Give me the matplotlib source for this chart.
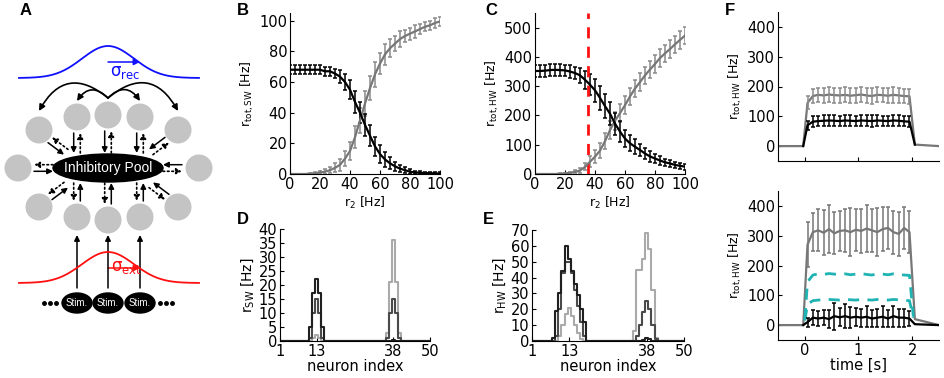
import numpy as np
import matplotlib.pyplot as plt
from matplotlib.patches import Circle, Ellipse, FancyArrowPatch

W, H = 945, 378

# ---- panel B / C data (r2 sweep) ----
r2 = np.linspace(0, 100, 31)
sw_black = [68, 68, 68, 68, 68, 68, 68, 67, 67, 65.5, 63.5, 60, 55, 47, 40, 32, 25, 18, 13,
            9.5, 7, 5, 3.5, 2.5, 1.5, 1.0, 0.8, 0.6, 0.5, 0.4, 0.3]
sw_black_err = [3, 3, 3, 3, 3, 3, 3, 3, 3, 3, 4, 5, 6, 7, 7, 7, 7, 6, 6, 5, 4, 3, 2.5, 2,
                1.5, 1, 1, 1, 1, 1, 1]
sw_gray = [0, 0, 0, 0, 0.2, 0.5, 1, 1.5, 2.5, 4, 6, 10, 15, 24, 35, 46, 56, 65, 72, 78, 82,
           85, 88, 90, 91.5, 93, 94.5, 96, 97, 98.5, 99.5]
sw_gray_err = [0.3, 0.3, 0.3, 0.3, 0.3, 0.5, 1, 1.5, 2, 3, 4, 5, 6, 7, 8, 8, 8, 8, 7, 7, 6,
               5, 5, 4, 4, 4, 3, 3, 3, 3, 3]

hw_black = [352, 352, 353, 355, 356, 355, 354, 350, 345, 337, 322, 305, 286, 260, 232, 206,
            172, 145, 121, 105, 93, 82, 70, 60, 53, 46, 40, 36, 31, 28, 25]
hw_black_err = [20, 20, 20, 20, 20, 20, 20, 22, 22, 25, 30, 35, 40, 40, 40, 40, 38, 35, 30,
                28, 25, 22, 20, 18, 16, 14, 12, 12, 10, 10, 10]
hw_gray = [0, 0, 0, 0, 0, 1, 2, 4, 7, 12, 24, 42, 59, 80, 112, 150, 182, 208, 235, 265, 292,
           314, 337, 357, 376, 396, 412, 427, 443, 458, 473]
hw_gray_err = [1, 1, 1, 1, 1, 2, 3, 4, 5, 8, 12, 18, 22, 25, 28, 30, 30, 30, 30, 30, 30, 30,
               30, 30, 30, 30, 30, 30, 30, 30, 30]
r2_marker = 35

# ---- panel D / E data (per-neuron rates) ----
neuron = np.arange(1, 51)
d_dark = {11: 5, 12: 17, 13: 22, 14: 17, 15: 5, 38: 0.5}
d_mid = {11: 1, 12: 10, 13: 15, 14: 10, 15: 1, 36: 1, 37: 10, 38: 15, 39: 10, 40: 1}
d_light = {12: 1, 13: 2, 14: 1, 36: 3, 37: 21, 38: 36, 39: 21, 40: 3}
e_dark = {8: 2, 9: 19, 10: 30, 11: 44, 12: 60, 13: 52, 14: 44, 15: 36, 16: 29, 17: 20,
          18: 12, 37: 0.5, 38: 2, 39: 1}
e_mid = {9: 3, 10: 20, 11: 43, 12: 50, 13: 50, 14: 43, 15: 32, 16: 22, 17: 12, 18: 3,
         35: 3, 36: 10, 37: 18, 38: 25, 39: 20, 40: 10, 41: 1}
e_light = {10: 3, 11: 10, 12: 17, 13: 21, 14: 16, 15: 10, 16: 5, 17: 1, 34: 6, 35: 45,
           36: 45, 37: 52, 38: 68, 39: 58, 40: 32, 41: 2}

# ---- panel F data (time courses) ----
t_on = [0.05, 0.15, 0.25, 0.35, 0.45, 0.55, 0.65, 0.75, 0.85, 0.95,
        1.05, 1.15, 1.25, 1.35, 1.45, 1.55, 1.65, 1.75, 1.85, 1.95]
t_pre = [-0.5, -0.03]
t_post = [2.05, 2.5]
top_gray = [145, 168, 172, 170, 173, 171, 170, 172, 169, 171, 173, 170, 168, 172, 171, 169,
            172, 170, 168, 167]
top_gray_err = [22, 25, 24, 25, 26, 25, 24, 25, 26, 25, 24, 25, 26, 25, 24, 25, 26, 25, 24, 25]
top_black = [70, 82, 84, 85, 86, 85, 84, 86, 85, 84, 86, 85, 84, 86, 85, 84, 86, 85, 83, 82]
top_black_err = [15, 18, 17, 18, 19, 18, 17, 18, 19, 18, 17, 18, 19, 18, 17, 18, 19, 18, 17, 18]
top_post = [5, 0]
bot_gray = [270, 312, 318, 310, 322, 308, 316, 318, 312, 320, 316, 324, 318, 312, 322, 326,
            312, 306, 326, 312]
bot_gray_err = [75, 65, 70, 75, 80, 70, 68, 72, 80, 70, 75, 78, 72, 80, 75, 70, 72, 75, 70, 70]
bot_black = [10, 25, 22, 25, 20, 30, 26, 30, 25, 28, 25, 28, 22, 25, 28, 22, 30, 25, 25, 22]
bot_black_err = [15, 25, 25, 25, 30, 45, 30, 40, 35, 30, 30, 35, 30, 30, 35, 30, 35, 30, 30, 25]
bot_gray_post = [20, 0]
bot_black_post = [3, 0]

GRAY = '#777777'
CYAN = '#1fb3b3'

plt.rcParams['font.family'] = ['DejaVu Sans']
plt.rcParams['font.size'] = 10
plt.rcParams['mathtext.default'] = 'regular'

fig = plt.figure(figsize=(W / 100, H / 100), dpi=100)


def px_axes(l, t, r, b):
    return fig.add_axes([l / W, 1 - b / H, (r - l) / W, (b - t) / H])


def style(ax):
    for s in ['top', 'right']:
        ax.spines[s].set_visible(False)
    ax.tick_params(direction='in', length=3, top=False, right=False, labelsize=10.5, pad=2)


def letter(x, y, s):
    fig.text(x / W, 1 - y / H, s, fontsize=12, fontweight='bold',
             family='Liberation Sans', va='top', ha='left')


def dense(d):
    v = np.zeros(len(neuron))
    for k, val in d.items():
        v[k - 1] = val
    return v


# ================= A: schematic =================
axA = fig.add_axes([0, 0, 230 / W, 1])
axA.set_xlim(0, 230)
axA.set_ylim(H, 0)
axA.axis('off')

xs = np.linspace(19, 199, 200)
bump = np.exp(-(xs - 108) ** 2 / (2 * 26 ** 2))
axA.plot(xs, 78 - 32 * bump, color='#1010ff', lw=1.3)
axA.plot(xs, 283 - 31 * bump, color='#ff1010', lw=1.3)


def arr(p0, p1, color='k', ls='-', lw=1.1, ms=8, cs=None):
    kw = dict(arrowstyle='-|>', mutation_scale=ms, color=color, lw=lw,
              linestyle=ls, shrinkA=0, shrinkB=0)
    if cs:
        kw['connectionstyle'] = cs
    axA.add_patch(FancyArrowPatch(p0, p1, **kw))


arr((108, 62), (140, 62), color='#1010ff', ms=9)
axA.text(110, 72, r'$\sigma_{rec}$', color='#1010ff', fontsize=12, va='center')
arr((108, 268), (140, 268), color='#ff1010', ms=9)
axA.text(111, 267, r'$\sigma_{ext}$', color='#ff1010', fontsize=12, va='center')

# recurrent excitation arcs
arr((108, 98), (39, 111), cs='arc3,rad=0.6', lw=1.2, ms=9)
arr((108, 98), (178, 111), cs='arc3,rad=-0.6', lw=1.2, ms=9)
arr((108, 98), (77, 101), cs='arc3,rad=0.6', lw=1.2, ms=9)
arr((108, 98), (140, 101), cs='arc3,rad=-0.6', lw=1.2, ms=9)

circles = [(77, 117), (108, 115), (140, 117), (39, 130), (178, 130), (18, 168), (199, 168),
           (39, 207), (178, 207), (77, 217), (108, 220), (140, 217)]
links = [((77, 133), (77, 153)), ((108, 131), (108, 153)), ((140, 133), (140, 153)),
         ((50, 140), (66, 152)), ((167, 140), (151, 152)), ((34, 168), (53, 168)),
         ((182, 168), (163, 168)), ((50, 197), (66, 185)), ((167, 197), (151, 185)),
         ((77, 201), (77, 183)), ((108, 204), (108, 183)), ((140, 201), (140, 183))]
for c in circles:
    axA.add_patch(Circle(c, 13.5, color='#c4c4c4', lw=0))
axA.add_patch(Ellipse((108, 168), 110, 28, color='k'))
axA.text(108, 168, 'Inhibitory Pool', color='w', ha='center', va='center', fontsize=10,
         family='Liberation Sans')
for p_out, p_in in links:
    p_out = np.array(p_out, float)
    p_in = np.array(p_in, float)
    d = (p_in - p_out) / np.hypot(*(p_in - p_out))
    n = np.array([-d[1], d[0]]) * 3.3
    arr(tuple(p_out + n), tuple(p_in + n), lw=1.1, ms=8)
    arr(tuple(p_in - n), tuple(p_out - n), ls=':', lw=1.2, ms=8)

for x in [77, 108, 140]:
    arr((x, 288), (x, 235), lw=1.1, ms=8)
    axA.add_patch(Ellipse((x, 303), 30, 20, color='k'))
    axA.text(x, 303, 'Stim.', color='w', ha='center', va='center', fontsize=7,
             family='Liberation Sans')
axA.plot([44, 50, 56], [303, 303, 303], 'ko', ms=2.5)
axA.plot([160, 166, 172], [303, 303, 303], 'ko', ms=2.5)

eb = dict(lw=1.6, elinewidth=1.1, capsize=1.6, capthick=1.1)

# ================= B =================
axB = px_axes(290, 13, 440, 174)
style(axB)
axB.errorbar(r2, sw_gray, yerr=sw_gray_err, color=GRAY, ecolor='#8a8a8a', **eb)
axB.errorbar(r2, sw_black, yerr=sw_black_err, color='k', ecolor='k', **eb)
axB.set_xlim(0, 100)
axB.set_ylim(0, 105)
axB.set_xticks([0, 20, 40, 60, 80, 100])
axB.set_yticks([0, 20, 40, 60, 80, 100])
axB.set_xlabel(r'r$_{2}$ [Hz]', fontsize=9, labelpad=2)
axB.set_ylabel(r'r$_{tot,SW}$ [Hz]', fontsize=9, labelpad=2)

# ================= C =================
axC = px_axes(535, 13, 685, 174)
style(axC)
axC.errorbar(r2, hw_gray, yerr=hw_gray_err, color=GRAY, ecolor='#8a8a8a', **eb)
axC.errorbar(r2, hw_black, yerr=hw_black_err, color='k', ecolor='k', **eb)
axC.axvline(r2_marker, color='#ff1010', ls='--', lw=2, dashes=(4, 3))
axC.set_xlim(0, 100)
axC.set_ylim(0, 550)
axC.set_xticks([0, 20, 40, 60, 80, 100])
axC.set_yticks([0, 100, 200, 300, 400, 500])
axC.set_xlabel(r'r$_{2}$ [Hz]', fontsize=9, labelpad=2)
axC.set_ylabel(r'r$_{tot,HW}$ [Hz]', fontsize=9, labelpad=2)

# ================= D =================
axD = px_axes(280, 229, 430, 341)
style(axD)
axD.step(neuron, dense(d_light), where='mid', color='#aaaaaa', lw=1.5)
axD.step(neuron, dense(d_mid), where='mid', color='#4a4a4a', lw=1.5)
axD.step(neuron, dense(d_dark), where='mid', color='#202020', lw=1.5)
axD.set_xlim(1, 50)
axD.set_ylim(0, 40)
axD.set_xticks([1, 13, 38, 50])
axD.set_yticks(range(0, 41, 5))
axD.set_xlabel('neuron index', fontsize=10.5, labelpad=0)
axD.set_ylabel(r'r$_{SW}$ [Hz]', labelpad=2)

# ================= E =================
axE = px_axes(532, 230, 684, 341)
style(axE)
axE.step(neuron, dense(e_light), where='mid', color='#aaaaaa', lw=1.5)
axE.step(neuron, dense(e_mid), where='mid', color='#4a4a4a', lw=1.5)
axE.step(neuron, dense(e_dark), where='mid', color='#202020', lw=1.5)
axE.set_xlim(1, 50)
axE.set_ylim(0, 70)
axE.set_xticks([1, 13, 38, 50])
axE.set_yticks(range(0, 71, 10))
axE.set_xlabel('neuron index', fontsize=10.5, labelpad=0)
axE.set_ylabel(r'r$_{HW}$ [Hz]', labelpad=2)

# ================= F =================
axF1 = px_axes(778, 12, 939, 161)
axF2 = px_axes(778, 191, 939, 340)
for ax in (axF1, axF2):
    style(ax)
    ax.set_xlim(-0.5, 2.5)
    ax.set_ylim(-50, 450)
    ax.set_xticks([0, 1, 2])
    ax.set_yticks([0, 100, 200, 300, 400])
    ax.set_ylabel(r'r$_{tot,HW}$ [Hz]', fontsize=9, labelpad=2)
axF1.set_xticklabels([])

axF1.plot(t_pre + t_on + t_post, [0, 0] + top_gray + top_post, color=GRAY, lw=1.6)
axF1.errorbar(t_on, top_gray, yerr=top_gray_err, fmt='none', ecolor='#8a8a8a',
              elinewidth=1.1, capsize=1.6, capthick=1.1)
axF1.plot(t_pre[1:] + t_on + t_post[:1], [0] + top_black + top_post[:1], color='k', lw=1.6)
axF1.errorbar(t_on, top_black, yerr=top_black_err, fmt='none', ecolor='k',
              elinewidth=1.1, capsize=1.6, capthick=1.1)

axF2.plot(t_pre + t_on + t_post, [0, 0] + bot_gray + bot_gray_post, color=GRAY, lw=1.6)
axF2.errorbar(t_on, bot_gray, yerr=bot_gray_err, fmt='none', ecolor='#777777',
              elinewidth=1.1, capsize=1.6, capthick=1.1)
axF2.plot([0.0] + t_on + [2.02], [20] + top_gray + [30], color=CYAN, lw=2, ls='--',
          dashes=(4, 3))
axF2.plot([0.0] + t_on + [2.02], [15] + top_black + [25], color=CYAN, lw=2, ls='--',
          dashes=(4, 3))
axF2.plot(t_pre[1:] + t_on + t_post, [0] + bot_black + bot_black_post, color='k', lw=1.6)
axF2.errorbar(t_on, bot_black, yerr=bot_black_err, fmt='none', ecolor='k',
              elinewidth=1.1, capsize=1.6, capthick=1.1)
axF2.set_xlabel('time [s]', fontsize=10.5, labelpad=0)

letter(20, 3, 'A')
letter(237, 3, 'B')
letter(485, 3, 'C')
letter(237, 212, 'D')
letter(483, 212, 'E')
letter(725, 3, 'F')

fig.savefig('out.png', dpi=100)
